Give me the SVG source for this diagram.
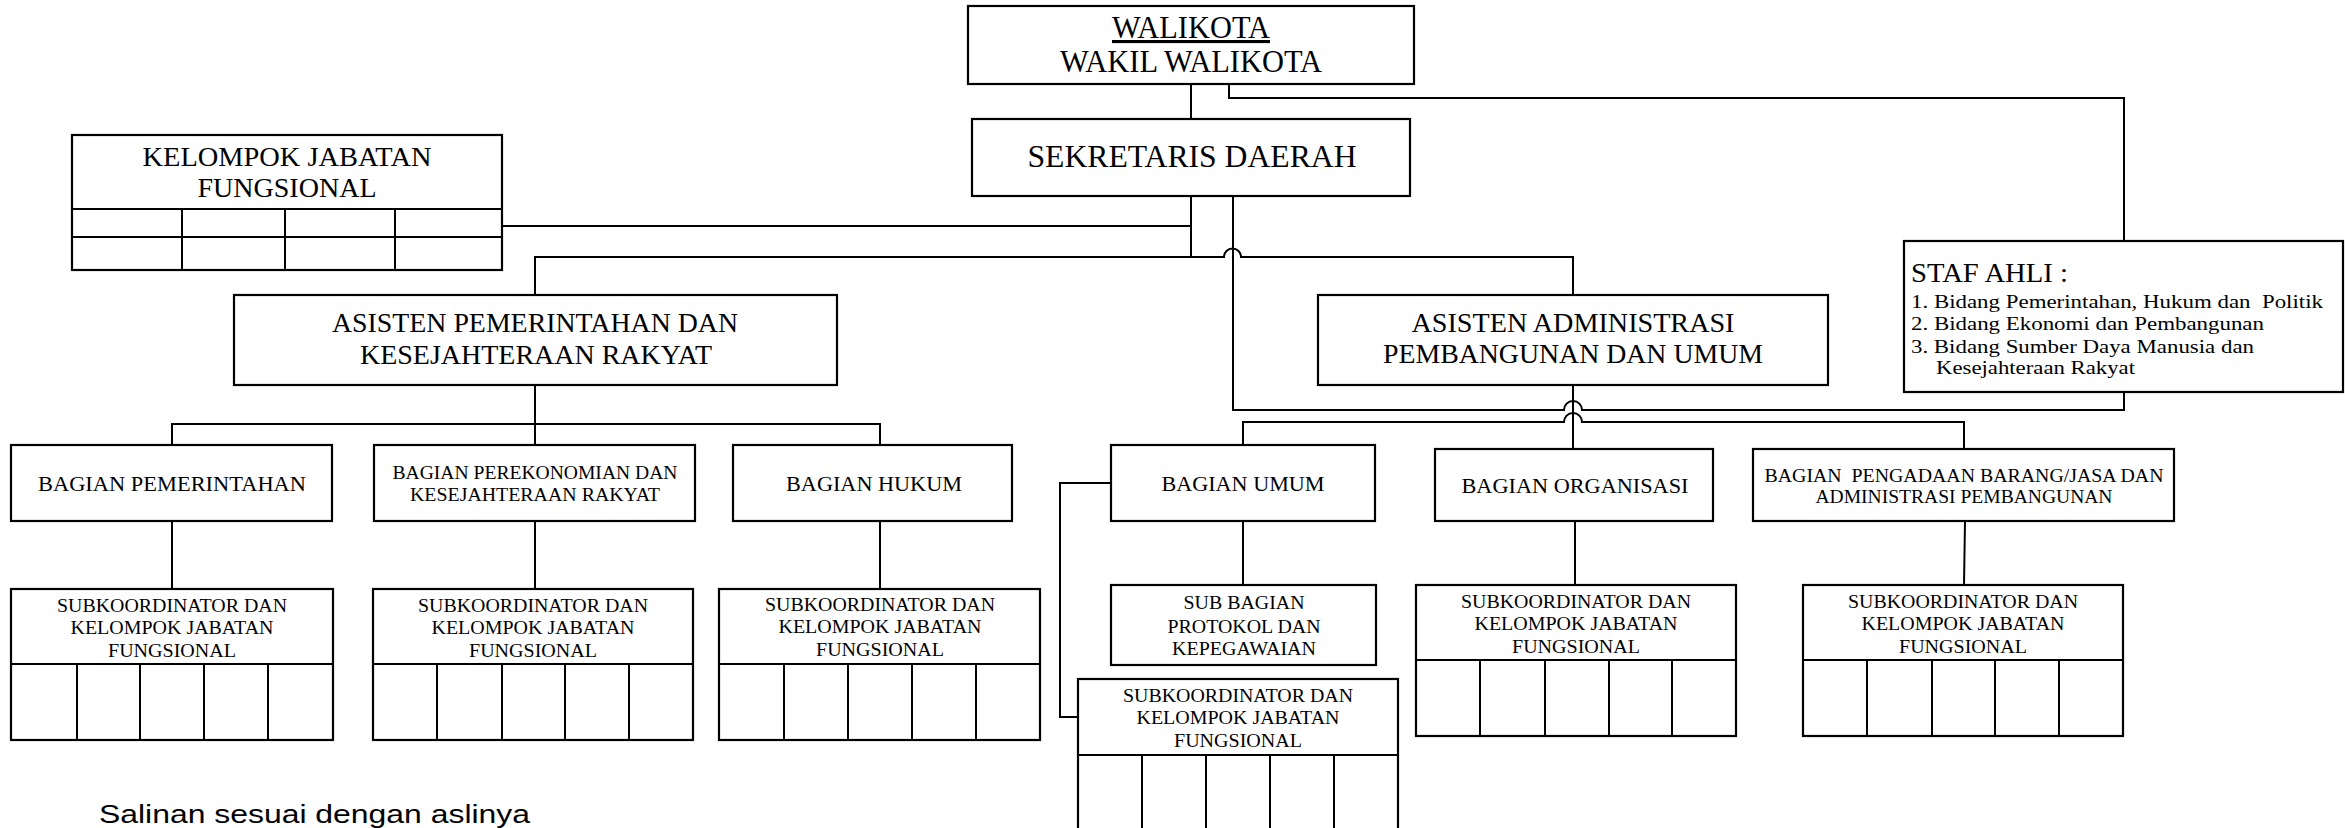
<svg xmlns="http://www.w3.org/2000/svg" width="2345" height="828" viewBox="0 0 2345 828">
<style>
.bg{fill:#fff}
.box{fill:#fff;stroke:#000;stroke-width:2.2}
.ln{fill:none;stroke:#000;stroke-width:2}
.t{font-family:"Liberation Serif","Times New Roman",serif;fill:#000;text-anchor:middle}
.l{text-anchor:start}
.s31{font-size:31px}.s32{font-size:32px}.s28{font-size:28px}.s22{font-size:22px}.s20{font-size:19.5px}.s18{font-size:18.5px}
.pre{white-space:pre}
.sans{font-family:"Liberation Sans",Arial,sans-serif;font-size:25px;fill:#000}
</style>
<rect class="bg" x="0" y="0" width="2345" height="828"/>
<g id="connectors">
<path class="ln" d="M1191,84 V119"/>
<path class="ln" d="M1229,84 V98 H2124 V241"/>
<path class="ln" d="M1191,196 V257"/>
<path class="ln" d="M502,226 H1191"/>
<path class="ln" d="M535,295 V257 H1224 A8.5,8.5 0 0 1 1241,257 H1573 V295"/>
<path class="ln" d="M1233,196 V410 H1564 A9,9 0 0 1 1582,410 H2124 V392"/>
<path class="ln" d="M1573,385 V449"/>
<path class="ln" d="M535,385 V445"/>
<path class="ln" d="M172,445 V424 H880 V445"/>
<path class="ln" d="M1243,445 V422 H1564 A9,9 0 0 1 1582,422 H1964 V449"/>
<path class="ln" d="M172,521 V589"/>
<path class="ln" d="M535,521 V589"/>
<path class="ln" d="M880,521 V589"/>
<path class="ln" d="M1243,521 V585"/>
<path class="ln" d="M1111,483 H1060 V717 H1078"/>
<path class="ln" d="M1575,521 V585"/>
<path class="ln" d="M1965,521 L1964,585"/>
</g>
<g id="walikota">
<rect class="box" x="968" y="6" width="446" height="78"/>
<text class="t s31" x="1191" y="38" textLength="158" lengthAdjust="spacingAndGlyphs" text-decoration="underline">WALIKOTA</text>
<text class="t s31" x="1191" y="72" textLength="262" lengthAdjust="spacingAndGlyphs">WAKIL WALIKOTA</text>
</g>
<g id="sekretaris-daerah">
<rect class="box" x="972" y="119" width="438" height="77"/>
<text class="t s32" x="1192" y="167" textLength="329" lengthAdjust="spacingAndGlyphs">SEKRETARIS DAERAH</text>
</g>
<g id="kelompok-jabatan-fungsional">
<rect class="box" x="72" y="135" width="430" height="135"/>
<path class="ln" d="M72,209 H502 M72,237 H502 M182,209 V270 M285,209 V270 M395,209 V270"/>
<text class="t s28" x="287" y="166" textLength="289" lengthAdjust="spacingAndGlyphs">KELOMPOK JABATAN</text>
<text class="t s28" x="287" y="197" textLength="179" lengthAdjust="spacingAndGlyphs">FUNGSIONAL</text>
</g>
<g id="staf-ahli">
<rect class="box" x="1904" y="241" width="439" height="151"/>
<text class="t l s28" x="1911" y="282" textLength="157" lengthAdjust="spacingAndGlyphs">STAF AHLI :</text>
<text class="t l s20 pre" x="1911" y="308" textLength="412" lengthAdjust="spacingAndGlyphs">1. Bidang Pemerintahan, Hukum dan  Politik</text>
<text class="t l s20" x="1911" y="330" textLength="353" lengthAdjust="spacingAndGlyphs">2. Bidang Ekonomi dan Pembangunan</text>
<text class="t l s20" x="1911" y="353" textLength="343" lengthAdjust="spacingAndGlyphs">3. Bidang Sumber Daya Manusia dan</text>
<text class="t l s20" x="1936" y="374" textLength="199" lengthAdjust="spacingAndGlyphs">Kesejahteraan Rakyat</text>
</g>
<g id="asisten-pemerintahan">
<rect class="box" x="234" y="295" width="603" height="90"/>
<text class="t s28" x="535" y="332" textLength="406" lengthAdjust="spacingAndGlyphs">ASISTEN PEMERINTAHAN DAN</text>
<text class="t s28" x="536" y="364" textLength="352" lengthAdjust="spacingAndGlyphs">KESEJAHTERAAN RAKYAT</text>
</g>
<g id="asisten-administrasi">
<rect class="box" x="1318" y="295" width="510" height="90"/>
<text class="t s28" x="1573" y="332" textLength="323" lengthAdjust="spacingAndGlyphs">ASISTEN ADMINISTRASI</text>
<text class="t s28" x="1573" y="363" textLength="380" lengthAdjust="spacingAndGlyphs">PEMBANGUNAN DAN UMUM</text>
</g>
<g id="bagian-pemerintahan">
<rect class="box" x="11" y="445" width="321" height="76"/>
<text class="t s22" x="172" y="491" textLength="268" lengthAdjust="spacingAndGlyphs">BAGIAN PEMERINTAHAN</text>
</g>
<g id="bagian-perekonomian">
<rect class="box" x="374" y="445" width="321" height="76"/>
<text class="t s18" x="535" y="479" textLength="285" lengthAdjust="spacingAndGlyphs">BAGIAN PEREKONOMIAN DAN</text>
<text class="t s18" x="535" y="501" textLength="250" lengthAdjust="spacingAndGlyphs">KESEJAHTERAAN RAKYAT</text>
</g>
<g id="bagian-hukum">
<rect class="box" x="733" y="445" width="279" height="76"/>
<text class="t s22" x="874" y="491" textLength="176" lengthAdjust="spacingAndGlyphs">BAGIAN HUKUM</text>
</g>
<g id="bagian-umum">
<rect class="box" x="1111" y="445" width="264" height="76"/>
<text class="t s22" x="1243" y="491" textLength="163" lengthAdjust="spacingAndGlyphs">BAGIAN UMUM</text>
</g>
<g id="bagian-organisasi">
<rect class="box" x="1435" y="449" width="278" height="72"/>
<text class="t s22" x="1575" y="493" textLength="227" lengthAdjust="spacingAndGlyphs">BAGIAN ORGANISASI</text>
</g>
<g id="bagian-pengadaan">
<rect class="box" x="1753" y="449" width="421" height="72"/>
<text class="t s18 pre" x="1964" y="482" textLength="399" lengthAdjust="spacingAndGlyphs">BAGIAN  PENGADAAN BARANG/JASA DAN</text>
<text class="t s18" x="1964" y="503" textLength="297" lengthAdjust="spacingAndGlyphs">ADMINISTRASI PEMBANGUNAN</text>
</g>
<g id="sub-bagian-protokol">
<rect class="box" x="1111" y="585" width="265" height="80"/>
<text class="t s20" x="1244" y="609" textLength="121" lengthAdjust="spacingAndGlyphs">SUB BAGIAN</text>
<text class="t s20" x="1244" y="633" textLength="153" lengthAdjust="spacingAndGlyphs">PROTOKOL DAN</text>
<text class="t s20" x="1244" y="655" textLength="144" lengthAdjust="spacingAndGlyphs">KEPEGAWAIAN</text>
</g>
<g id="subkoordinator-pemerintahan">
<rect class="box" x="11" y="589" width="322" height="151"/>
<path class="ln" d="M11,664 H333 M77,664 V740 M140,664 V740 M204,664 V740 M268,664 V740"/>
<text class="t s20" x="172" y="612" textLength="230" lengthAdjust="spacingAndGlyphs">SUBKOORDINATOR DAN</text>
<text class="t s20" x="172" y="634" textLength="203" lengthAdjust="spacingAndGlyphs">KELOMPOK JABATAN</text>
<text class="t s20" x="172" y="657" textLength="128" lengthAdjust="spacingAndGlyphs">FUNGSIONAL</text>
</g>
<g id="subkoordinator-perekonomian">
<rect class="box" x="373" y="589" width="320" height="151"/>
<path class="ln" d="M373,664 H693 M437,664 V740 M502,664 V740 M565,664 V740 M629,664 V740"/>
<text class="t s20" x="533" y="612" textLength="230" lengthAdjust="spacingAndGlyphs">SUBKOORDINATOR DAN</text>
<text class="t s20" x="533" y="634" textLength="203" lengthAdjust="spacingAndGlyphs">KELOMPOK JABATAN</text>
<text class="t s20" x="533" y="657" textLength="128" lengthAdjust="spacingAndGlyphs">FUNGSIONAL</text>
</g>
<g id="subkoordinator-hukum">
<rect class="box" x="719" y="589" width="321" height="151"/>
<path class="ln" d="M719,664 H1040 M784,664 V740 M848,664 V740 M912,664 V740 M976,664 V740"/>
<text class="t s20" x="880" y="611" textLength="230" lengthAdjust="spacingAndGlyphs">SUBKOORDINATOR DAN</text>
<text class="t s20" x="880" y="633" textLength="203" lengthAdjust="spacingAndGlyphs">KELOMPOK JABATAN</text>
<text class="t s20" x="880" y="656" textLength="128" lengthAdjust="spacingAndGlyphs">FUNGSIONAL</text>
</g>
<g id="subkoordinator-umum">
<rect class="box" x="1078" y="679" width="320" height="170"/>
<path class="ln" d="M1078,755 H1398 M1142,755 V828 M1206,755 V828 M1270,755 V828 M1334,755 V828"/>
<text class="t s20" x="1238" y="702" textLength="230" lengthAdjust="spacingAndGlyphs">SUBKOORDINATOR DAN</text>
<text class="t s20" x="1238" y="724" textLength="203" lengthAdjust="spacingAndGlyphs">KELOMPOK JABATAN</text>
<text class="t s20" x="1238" y="747" textLength="128" lengthAdjust="spacingAndGlyphs">FUNGSIONAL</text>
</g>
<g id="subkoordinator-organisasi">
<rect class="box" x="1416" y="585" width="320" height="151"/>
<path class="ln" d="M1416,660 H1736 M1480,660 V736 M1545,660 V736 M1609,660 V736 M1672,660 V736"/>
<text class="t s20" x="1576" y="608" textLength="230" lengthAdjust="spacingAndGlyphs">SUBKOORDINATOR DAN</text>
<text class="t s20" x="1576" y="630" textLength="203" lengthAdjust="spacingAndGlyphs">KELOMPOK JABATAN</text>
<text class="t s20" x="1576" y="653" textLength="128" lengthAdjust="spacingAndGlyphs">FUNGSIONAL</text>
</g>
<g id="subkoordinator-pengadaan">
<rect class="box" x="1803" y="585" width="320" height="151"/>
<path class="ln" d="M1803,660 H2123 M1867,660 V736 M1932,660 V736 M1995,660 V736 M2059,660 V736"/>
<text class="t s20" x="1963" y="608" textLength="230" lengthAdjust="spacingAndGlyphs">SUBKOORDINATOR DAN</text>
<text class="t s20" x="1963" y="630" textLength="203" lengthAdjust="spacingAndGlyphs">KELOMPOK JABATAN</text>
<text class="t s20" x="1963" y="653" textLength="128" lengthAdjust="spacingAndGlyphs">FUNGSIONAL</text>
</g>
<text class="sans" x="99" y="823" textLength="431" lengthAdjust="spacingAndGlyphs">Salinan sesuai dengan aslinya</text>
</svg>
